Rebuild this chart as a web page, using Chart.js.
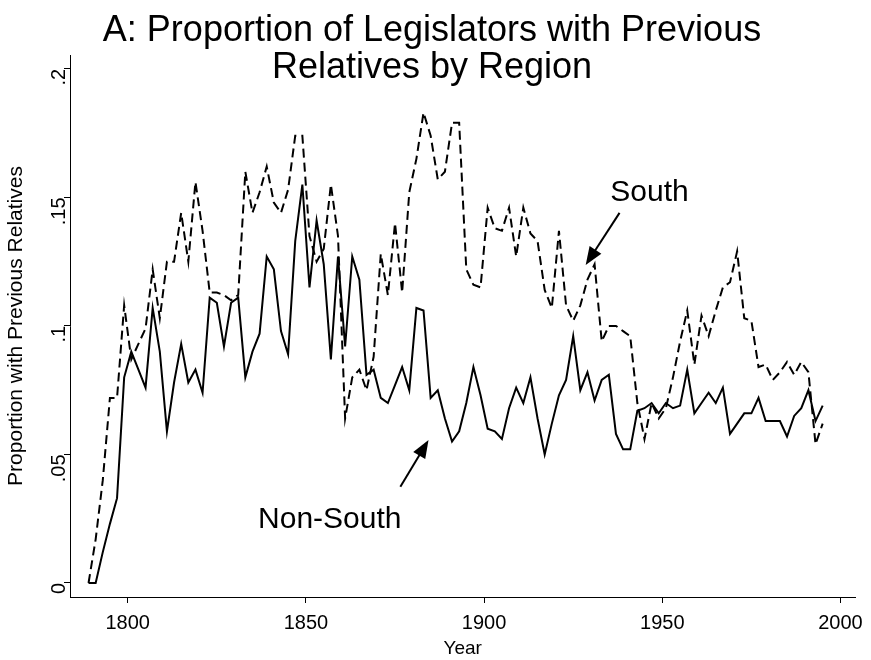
<!DOCTYPE html>
<html>
<head>
<meta charset="utf-8">
<script src="https://cdn.jsdelivr.net/npm/chart.js@4"></script>
<style>
  body { margin: 0; background: #fff; }
  #wrap { width: 871px; height: 660px; }
</style>
</head>
<body>
<div id="wrap"><canvas id="chart" width="871" height="660"></canvas></div>
<script>
const startYear = 1789;
const nonSouth = [0, 0, .012, .023, .033, .08, .09, .083, .076, .107, .09, .059, .078, .093, .078, .083, .074, .111, .109, .092,
  .109, .111, .080, .090, .097, .127, .122, .098, .089, .133, .155, .115, .141, .124, .087, .127, .092, .127, .118, .081,
  .083, .072, .070, .077, .084, .075, .107, .106, .072, .075, .064, .055, .059, .070, .084, .073, .060, .059, .056, .068,
  .076, .070, .080, .064, .050, .062, .073, .079, .096, .075, .082, .071, .079, .081, .058, .052, .052, .067, .068, .070,
  .066, .070, .068, .069, .083, .066, .070, .074, .070, .076, .058, .062, .066, .066, .072, .063, .063, .063, .057,
  .065, .068, .075, .063, .069];
const south = [0, .017, .04, .072, .072, .108, .087, .093, .099, .122, .103, .125, .125, .144, .125, .156, .137, .113, .113, .112,
  .110, .112, .160, .144, .152, .162, .148, .144, .153, .174, .174, .135, .125, .130, .155, .135, .064, .080, .083, .075,
  .088, .128, .112, .140, .113, .152, .165, .183, .174, .157, .160, .179, .179, .122, .116, .115, .146, .138, .137, .146,
  .127, .146, .136, .133, .114, .107, .137, .108, .102, .108, .118, .124, .094, .100, .100, .098, .096, .070, .056, .070,
  .064, .068, .080, .094, .106, .085, .104, .096, .106, .115, .117, .129, .103, .102, .084, .085, .079, .082, .086, .081,
  .086, .082, .054, .062];
const xTicks = [1800, 1850, 1900, 1950, 2000];
const yTicks = [0, .05, .1, .15, .2];
const yTickLabels = ['0', '.05', '.1', '.15', '.2'];
const titleLines = ['A: Proportion of Legislators with Previous', 'Relatives by Region'];

const toPoints = arr => arr.map((v, i) => ({ x: startYear + 2 * i, y: v }));
const FONT = '"Liberation Sans", Arial, sans-serif';

// text labels and arrows, placed in data coordinates
const notes = [
  { text: 'South', tx: 1946.4, ty: .1518, ax0: 1938, ay0: .144, ax1: 1928.5, ay1: .1237 },
  { text: 'Non-South', tx: 1856.7, ty: .0245, ax0: 1876.5, ay0: .0374, ax1: 1884.4, ay1: .0556 }
];

const annotate = {
  id: 'annotate',
  afterDatasetsDraw(chart) {
    const ctx = chart.ctx, xs = chart.scales.x, ys = chart.scales.y;
    ctx.save();
    ctx.fillStyle = '#000';
    ctx.strokeStyle = '#000';
    ctx.lineWidth = 2;
    ctx.textAlign = 'center';
    ctx.textBaseline = 'middle';
    ctx.font = '36px ' + FONT;
    ctx.fillText(titleLines[0], 432, 31);
    ctx.fillText(titleLines[1], 432, 68);
    ctx.font = '30px ' + FONT;
    notes.forEach(n => {
      ctx.fillText(n.text, xs.getPixelForValue(n.tx), ys.getPixelForValue(n.ty));
      const x0 = xs.getPixelForValue(n.ax0), y0 = ys.getPixelForValue(n.ay0);
      const x1 = xs.getPixelForValue(n.ax1), y1 = ys.getPixelForValue(n.ay1);
      const a = Math.atan2(y1 - y0, x1 - x0);
      ctx.beginPath();
      ctx.moveTo(x0, y0);
      ctx.lineTo(x1 - 14 * Math.cos(a), y1 - 14 * Math.sin(a));
      ctx.stroke();
      ctx.beginPath();
      ctx.moveTo(x1, y1);
      ctx.lineTo(x1 - 18 * Math.cos(a) + 7 * Math.sin(a), y1 - 18 * Math.sin(a) - 7 * Math.cos(a));
      ctx.lineTo(x1 - 18 * Math.cos(a) - 7 * Math.sin(a), y1 - 18 * Math.sin(a) + 7 * Math.cos(a));
      ctx.closePath();
      ctx.fill();
    });
    ctx.restore();
  }
};

const axisGrid = { display: true, drawOnChartArea: false, drawTicks: true, tickLength: 6, color: '#000' };

new Chart(document.getElementById('chart'), {
  type: 'scatter',
  data: {
    datasets: [
      { label: 'South', data: toPoints(south), showLine: true, borderColor: '#000', borderWidth: 2,
        borderDash: [9, 5], pointRadius: 0, tension: 0 },
      { label: 'Non-South', data: toPoints(nonSouth), showLine: true, borderColor: '#000', borderWidth: 2,
        pointRadius: 0, tension: 0 }
    ]
  },
  options: {
    responsive: false,
    animation: false,
    layout: { padding: { left: 4, right: 14, top: 55, bottom: 0 } },
    plugins: { legend: { display: false }, tooltip: { enabled: false } },
    scales: {
      x: {
        type: 'linear', min: 1783.8, max: 2004.2,
        afterBuildTicks: s => { s.ticks = xTicks.map(v => ({ value: v })); },
        afterFit: s => { s.height = 63; },
        grid: axisGrid,
        border: { color: '#000', width: 1 },
        ticks: { color: '#000', font: { family: FONT, size: 20 }, maxRotation: 0, padding: 8, callback: v => String(v) },
        title: { display: true, text: 'Year', color: '#000', font: { family: FONT, size: 19 }, padding: { top: -6, bottom: 0 } }
      },
      y: {
        min: -0.00545, max: 0.2054,
        afterBuildTicks: s => { s.ticks = yTicks.map(v => ({ value: v })); },
        afterFit: s => { s.width = 66; },
        grid: axisGrid,
        border: { color: '#000', width: 1 },
        ticks: {
          color: '#000', font: { family: FONT, size: 20 }, minRotation: 90, maxRotation: 90, padding: 5,
          callback: v => yTickLabels[yTicks.indexOf(v)] ?? ''
        },
        title: { display: true, text: 'Proportion with Previous Relatives', color: '#000', font: { family: FONT, size: 21 }, padding: 0 }
      }
    }
  },
  plugins: [annotate]
});
</script>
</body>
</html>
